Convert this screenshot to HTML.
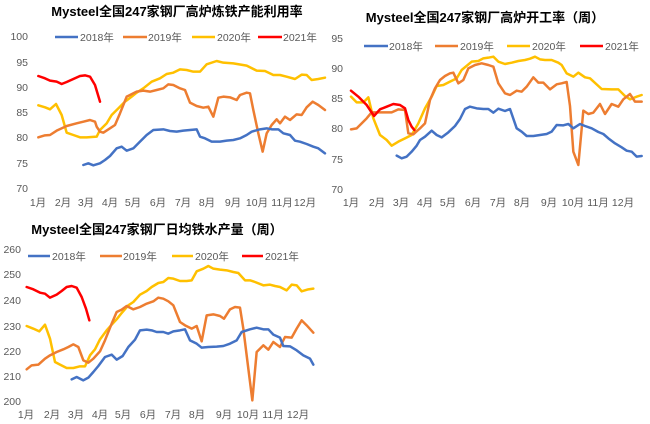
<!DOCTYPE html>
<html><head><meta charset="utf-8"><style>
html,body{margin:0;padding:0;background:#fff;}
svg{display:block;font-family:"Liberation Sans","Noto Sans CJK SC",sans-serif;}
.t{font-size:13px;font-weight:bold;fill:#000;text-anchor:middle;}
.ax{font-size:10.5px;fill:#595959;}
.yl{text-anchor:end;}
.xl{text-anchor:middle;}
.lg{font-size:10.5px;fill:#595959;}
polyline{fill:none;stroke-width:7.5;stroke-linejoin:round;stroke-linecap:round;}
.b{stroke:#4472C4}.o{stroke:#ED7D31}.y{stroke:#FFC000}.r{stroke:#FF0000}
</style></head><body>
<svg width="650" height="424" viewBox="0 0 650 424">
<!-- Chart 1 -->
<text class="t" x="177" y="16">Mysteel全国247家钢厂高炉炼铁产能利用率</text>
<g class="ax yl"><text x="28" y="40">100</text><text x="28" y="66">95</text><text x="28" y="91">90</text><text x="28" y="116">85</text><text x="28" y="141">80</text><text x="28" y="167">75</text><text x="28" y="192">70</text></g>
<g class="ax xl"><text x="38" y="206">1月</text><text x="63" y="206">2月</text><text x="86" y="206">3月</text><text x="110" y="206">4月</text><text x="133" y="206">5月</text><text x="158" y="206">6月</text><text x="183" y="206">7月</text><text x="207" y="206">8月</text><text x="233" y="206">9月</text><text x="257" y="206">10月</text><text x="282" y="206">11月</text><text x="305" y="206">12月</text></g>
<g stroke-width="2.5"><line x1="55" y1="37" x2="78" y2="37" stroke="#4472C4" stroke-width="2.5"/><line x1="123" y1="37" x2="147" y2="37" stroke="#ED7D31" stroke-width="2.5"/><line x1="192" y1="37" x2="215" y2="37" stroke="#FFC000" stroke-width="2.5"/><line x1="258" y1="37" x2="282" y2="37" stroke="#FF0000" stroke-width="2.5"/></g>
<g class="lg"><text x="80" y="41">2018年</text><text x="148" y="41">2019年</text><text x="217" y="41">2020年</text><text x="283" y="41">2021年</text></g>
<g transform="scale(0.33333)">
<polyline class="y" points="115,316 135,322 150,328 168,312 185,345 200,398 220,405 240,412 260,412 290,410 300,390 320,370 335,345 355,325 375,305 395,290 410,278 430,265 455,245 480,235 500,222 520,218 540,208 560,210 580,215 600,215 620,193 650,183 670,188 700,190 740,197 770,212 795,213 820,225 840,225 860,230 885,237 905,224 920,225 935,240 955,237 975,233"/>
<polyline class="o" points="115,412 135,406 150,405 170,392 200,378 230,370 250,365 270,360 285,365 290,380 300,395 310,398 330,385 345,375 360,340 380,290 390,285 410,275 430,272 450,275 470,270 490,265 505,253 520,255 540,265 555,270 570,308 590,318 610,323 625,320 640,350 655,293 670,290 690,292 710,300 720,285 740,278 750,280 760,330 775,400 788,455 800,400 815,375 830,358 840,370 855,350 870,360 890,343 905,345 920,322 938,305 955,315 975,330"/>
<polyline class="b" points="250,495 265,490 280,496 300,490 315,480 330,468 350,445 365,440 380,452 400,445 420,425 440,405 460,390 490,388 510,393 530,395 550,392 570,390 590,388 600,410 615,415 635,425 660,425 680,422 700,420 720,415 740,405 755,395 780,388 800,385 815,388 835,388 850,400 870,405 885,422 900,425 920,432 940,440 955,445 975,460"/>
<polyline class="r" points="115,228 135,235 150,242 170,245 185,252 200,246 220,237 240,228 255,226 270,230 285,255 300,305"/>
</g>
<!-- Chart 2 -->
<text class="t" x="485" y="22">Mysteel全国247家钢厂高炉开工率（周）</text>
<g class="ax yl"><text x="343" y="42">95</text><text x="343" y="72">90</text><text x="343" y="102">85</text><text x="343" y="132">80</text><text x="343" y="163">75</text><text x="343" y="193">70</text></g>
<g class="ax xl"><text x="351" y="206">1月</text><text x="377" y="206">2月</text><text x="401" y="206">3月</text><text x="425" y="206">4月</text><text x="448" y="206">5月</text><text x="473" y="206">6月</text><text x="498" y="206">7月</text><text x="522" y="206">8月</text><text x="549" y="206">9月</text><text x="573" y="206">10月</text><text x="598" y="206">11月</text><text x="623" y="206">12月</text></g>
<line x1="364" y1="46" x2="388" y2="46" stroke="#4472C4" stroke-width="2.5"/><line x1="435" y1="46" x2="458" y2="46" stroke="#ED7D31" stroke-width="2.5"/><line x1="507" y1="46" x2="530" y2="46" stroke="#FFC000" stroke-width="2.5"/><line x1="580" y1="46" x2="603" y2="46" stroke="#FF0000" stroke-width="2.5"/>
<g class="lg"><text x="389" y="50">2018年</text><text x="460" y="50">2019年</text><text x="532" y="50">2020年</text><text x="605" y="50">2021年</text></g>
<g transform="translate(325,0) scale(0.33333)">
<polyline class="y" points="78,290 95,307 115,307 130,292 145,355 165,405 185,420 200,437 220,425 240,415 260,405 280,370 300,325 320,290 335,258 355,255 375,245 395,235 410,210 440,185 460,183 475,175 490,173 505,170 520,185 540,192 560,188 580,183 600,180 615,176 630,170 645,178 660,180 680,180 700,188 710,195 725,220 745,230 760,218 780,232 795,235 830,267 860,268 880,268 900,288 915,298 935,290 950,285"/>
<polyline class="o" points="78,388 95,385 110,370 125,355 140,337 160,337 180,337 200,337 220,328 240,330 250,400 265,403 285,385 300,370 315,300 330,265 345,240 360,228 375,220 385,218 400,250 415,240 430,205 450,195 470,190 490,195 505,200 520,250 540,280 555,285 575,272 590,275 605,260 625,232 640,248 655,248 675,268 695,253 710,250 725,246 735,318 745,455 760,495 775,332 790,342 805,338 825,312 840,342 860,312 880,320 895,298 915,282 930,305 950,305"/>
<polyline class="b" points="215,467 230,475 245,470 260,455 275,437 285,420 300,410 320,392 335,405 350,412 370,397 390,378 405,357 420,327 435,320 455,325 475,327 490,327 505,338 520,326 540,333 555,327 575,385 590,395 605,408 625,408 645,405 665,402 680,395 695,375 715,376 730,372 745,385 765,372 780,378 800,385 820,396 835,402 850,415 870,430 890,442 905,452 920,455 935,470 950,468"/>
<polyline class="r" points="78,272 100,290 125,315 147,348 165,328 185,320 205,312 225,315 240,325 250,360 260,380 268,390"/>
</g>
<!-- Chart 3 -->
<text class="t" x="157" y="234">Mysteel全国247家钢厂日均铁水产量（周）</text>
<g class="ax yl"><text x="21" y="253">260</text><text x="21" y="278">250</text><text x="21" y="304">240</text><text x="21" y="330">230</text><text x="21" y="355">220</text><text x="21" y="380">210</text><text x="21" y="405">200</text></g>
<g class="ax xl"><text x="26" y="418">1月</text><text x="52" y="418">2月</text><text x="76" y="418">3月</text><text x="100" y="418">4月</text><text x="123" y="418">5月</text><text x="148" y="418">6月</text><text x="173" y="418">7月</text><text x="197" y="418">8月</text><text x="224" y="418">9月</text><text x="248" y="418">10月</text><text x="273" y="418">11月</text><text x="298" y="418">12月</text></g>
<line x1="28" y1="256" x2="50" y2="256" stroke="#4472C4" stroke-width="2.5"/><line x1="100" y1="256" x2="122" y2="256" stroke="#ED7D31" stroke-width="2.5"/><line x1="172" y1="256" x2="193" y2="256" stroke="#FFC000" stroke-width="2.5"/><line x1="242" y1="256" x2="263" y2="256" stroke="#FF0000" stroke-width="2.5"/>
<g class="lg"><text x="52" y="260">2018年</text><text x="123" y="260">2019年</text><text x="195" y="260">2020年</text><text x="265" y="260">2021年</text></g>
<g transform="translate(0,212) scale(0.33333)">
<polyline class="y" points="80,342 100,350 118,358 135,338 150,380 165,450 180,458 200,468 220,468 240,463 255,463 270,430 285,412 300,382 320,355 335,338 350,322 365,303 385,280 400,270 420,248 440,237 455,225 475,213 490,210 505,198 520,200 540,207 560,207 575,205 590,178 610,170 625,162 640,170 660,173 680,175 700,180 715,183 735,205 750,205 765,210 790,220 810,218 825,222 840,225 860,235 875,218 890,220 905,238 925,232 940,230"/>
<polyline class="o" points="80,472 95,460 115,458 135,440 150,430 170,420 190,412 205,405 220,397 235,405 250,445 265,452 280,440 300,418 315,385 335,335 350,300 365,293 380,282 400,292 420,285 440,275 460,268 475,257 490,260 505,268 520,280 540,330 555,340 575,350 590,342 605,388 620,310 640,307 660,312 672,320 690,292 705,285 720,287 730,350 745,470 757,565 770,420 790,400 805,413 820,390 840,405 855,375 875,377 890,350 905,325 920,340 940,362"/>
<polyline class="b" points="215,502 230,495 250,505 265,497 280,480 295,462 315,435 335,428 350,443 368,432 385,405 405,383 420,355 440,353 455,355 470,360 490,360 505,365 520,358 540,355 555,352 570,385 590,395 605,407 625,405 650,404 670,402 690,395 710,385 725,360 750,352 770,347 790,352 805,352 820,368 840,377 850,402 870,403 890,415 910,430 930,440 940,458"/>
<polyline class="r" points="80,225 100,232 120,242 135,245 150,257 170,248 185,237 200,225 215,222 230,227 245,255 258,290 268,325"/>
</g>
</svg>
</body></html>
